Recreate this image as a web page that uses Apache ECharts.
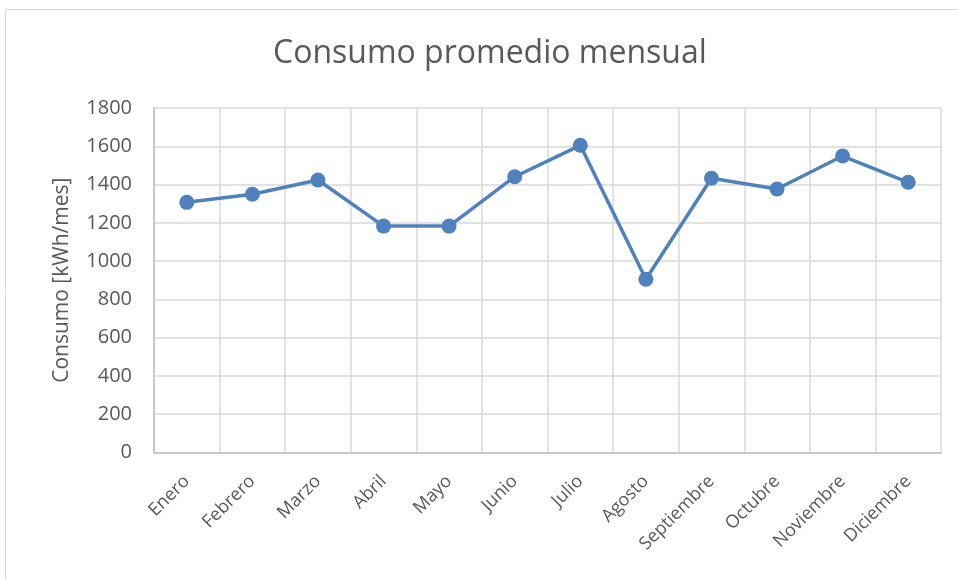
<!DOCTYPE html>
<html>
<head>
<meta charset="utf-8">
<script src="https://cdn.jsdelivr.net/npm/echarts@6/dist/echarts.min.js"></script>
<style>
  html, body { margin: 0; padding: 0; background: #fff; }
  #chart { width: 957px; height: 580px; }
</style>
</head>
<body>
<div id="chart"></div>
<script>
// datos
var meses = ['Enero', 'Febrero', 'Marzo', 'Abril', 'Mayo', 'Junio', 'Julio', 'Agosto', 'Septiembre', 'Octubre', 'Noviembre', 'Diciembre'];
var consumo = [1307, 1349, 1424, 1183, 1183, 1441, 1605, 905, 1433, 1377, 1549, 1412];
var ejeY = { min: 0, max: 1800, paso: 200 };

var gris = '#595959';
var myChart = echarts.init(document.getElementById('chart'));

var option = {
  backgroundColor: '#fff',
  animation: false,
  graphic: [{
    type: 'rect',
    shape: { x: 5.5, y: 9.5, width: 960, height: 580 },
    style: { fill: 'none', stroke: '#d9d9d9', lineWidth: 1 },
    silent: true
  }],
  title: {
    text: 'Consumo promedio mensual',
    left: 268,
    top: 33,
    textStyle: { fontFamily: 'Open Sans', fontSize: 32, fontWeight: 'normal', color: gris }
  },
  grid: { left: 154, right: 16, top: 108, bottom: 127.5 },
  xAxis: {
    type: 'category',
    data: meses,
    boundaryGap: true,
    axisLine: { lineStyle: { color: '#bfbfbf', width: 1.5 } },
    axisTick: { show: false },
    splitLine: { show: true, lineStyle: { color: '#d9d9d9', width: 1.5 } },
    axisLabel: {
      interval: 0, rotate: 45, margin: 26,
      fontFamily: 'Open Sans', fontSize: 18, color: gris
    }
  },
  yAxis: {
    type: 'value',
    min: ejeY.min, max: ejeY.max, interval: ejeY.paso,
    name: 'Consumo [kWh/mes]',
    nameLocation: 'middle',
    nameGap: 81,
    nameTextStyle: { fontFamily: 'Open Sans', fontSize: 21, color: gris },
    axisLine: { show: true, lineStyle: { color: '#bfbfbf', width: 1.5 } },
    axisTick: { show: false },
    splitLine: { lineStyle: { color: '#d9d9d9', width: 1.5 } },
    axisLabel: {
      fontFamily: 'Open Sans', fontSize: 20, color: gris, margin: 22,
      formatter: function (v) { return String(v); }
    }
  },
  series: [{
    type: 'line',
    data: consumo,
    symbol: 'circle',
    symbolSize: 15,
    lineStyle: { color: '#4f81bd', width: 3.5 },
    itemStyle: { color: '#4f81bd' }
  }]
};

myChart.setOption(option);
</script>
</body>
</html>
